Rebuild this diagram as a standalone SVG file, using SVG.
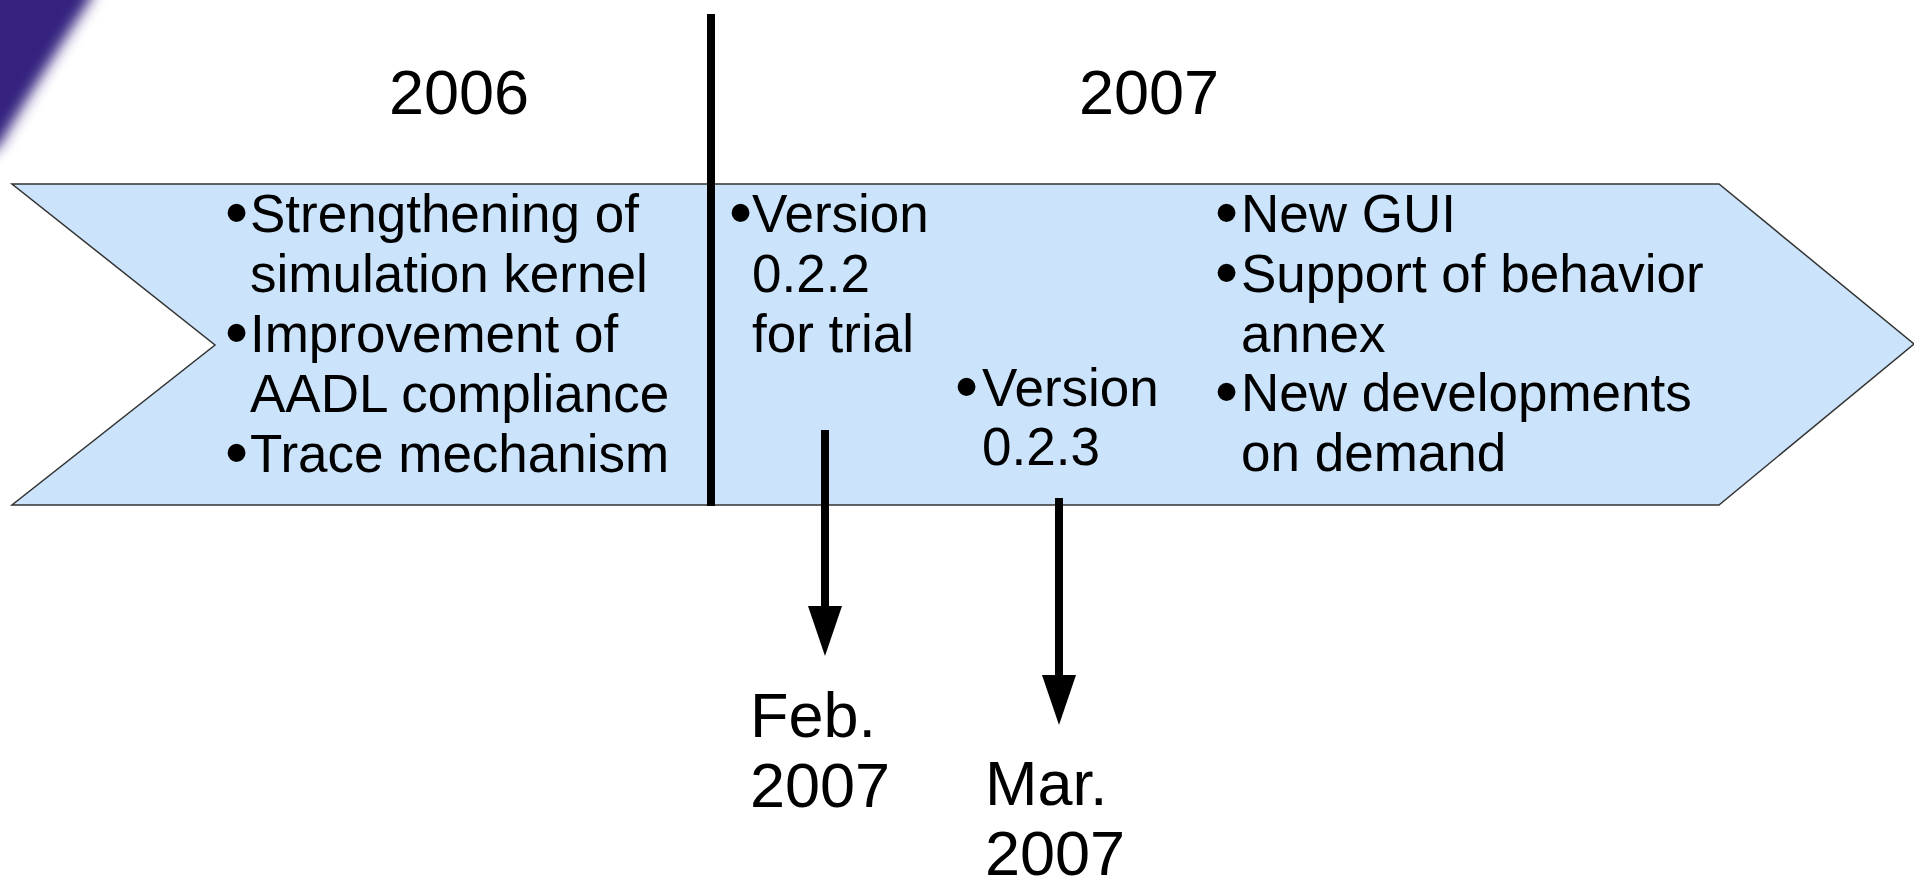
<svg xmlns="http://www.w3.org/2000/svg" width="1914" height="879" viewBox="0 0 1914 879">
  <style>
    .t { font-family: "Liberation Sans", Arial, sans-serif; font-size: 53px; fill: #000; }
    .big { font-family: "Liberation Sans", Arial, sans-serif; font-size: 63px; fill: #000; }
    .b { font-family: "Liberation Sans", Arial, sans-serif; font-size: 66px; fill: #000; }
  </style>
  <defs>
    <filter id="blur" x="-50%" y="-50%" width="200%" height="200%">
      <feGaussianBlur stdDeviation="7"/>
    </filter>
    <marker id="head" viewBox="0 0 50 34" markerWidth="50" markerHeight="34" refX="0" refY="17" orient="auto" markerUnits="userSpaceOnUse">
      <path d="M0,0 L50,17 L0,34 z" fill="#000"/>
    </marker>
  </defs>
  <rect width="1914" height="879" fill="#fff"/>
  <path d="M-30,-30 L100,-30 L90,0 C64,40 32,90 0,145 L-30,170 Z" fill="#34237f" filter="url(#blur)"/>

  <g id="banner">
    <polygon points="12,184 1719,184 1914,344 1719,505 12,505 215,345" fill="#cbe4fc" stroke="#333" stroke-width="1.5"/>
  </g>

  <g id="divider">
    <line x1="711" y1="14" x2="711" y2="506" stroke="#000" stroke-width="8"/>
  </g>

  <g id="year-2006"><text class="big" x="389" y="114">2006</text></g>
  <g id="year-2007"><text class="big" x="1079" y="114">2007</text></g>

  <g id="col-2006">
    <text class="b"><tspan x="225" y="235">•</tspan><tspan x="225" y="355">•</tspan><tspan x="225" y="475">•</tspan></text>
    <text class="t" x="250" y="232">Strengthening of</text>
    <text class="t" x="250" y="292">simulation kernel</text>
    <text class="t" x="250" y="352">Improvement of</text>
    <text class="t" x="250" y="412">AADL compliance</text>
    <text class="t" x="250" y="472">Trace mechanism</text>
  </g>

  <g id="v022">
    <text class="b" x="729" y="235">•</text>
    <text class="t" x="752" y="232">Version</text>
    <text class="t" x="752" y="292">0.2.2</text>
    <text class="t" x="752" y="352">for trial</text>
  </g>

  <g id="v023">
    <text class="b" x="955" y="409">•</text>
    <text class="t" x="982" y="406">Version</text>
    <text class="t" x="982" y="465">0.2.3</text>
  </g>

  <g id="col-future">
    <text class="b"><tspan x="1215" y="235">•</tspan><tspan x="1215" y="295">•</tspan><tspan x="1215" y="414">•</tspan></text>
    <text class="t" x="1241" y="232">New GUI</text>
    <text class="t" x="1241" y="292">Support of behavior</text>
    <text class="t" x="1241" y="352">annex</text>
    <text class="t" x="1241" y="411">New developments</text>
    <text class="t" x="1241" y="471">on demand</text>
  </g>

  <g id="connectors">
    <line x1="825" y1="430" x2="825" y2="606" stroke="#000" stroke-width="8" marker-end="url(#head)"/>
    <line x1="1059" y1="498" x2="1059" y2="675" stroke="#000" stroke-width="8" marker-end="url(#head)"/>
  </g>

  <g id="date-feb">
    <text class="big" x="750" y="737">Feb.</text>
    <text class="big" x="750" y="807">2007</text>
  </g>
  <g id="date-mar">
    <text class="big" x="985" y="805">Mar.</text>
    <text class="big" x="985" y="875">2007</text>
  </g>
</svg>
